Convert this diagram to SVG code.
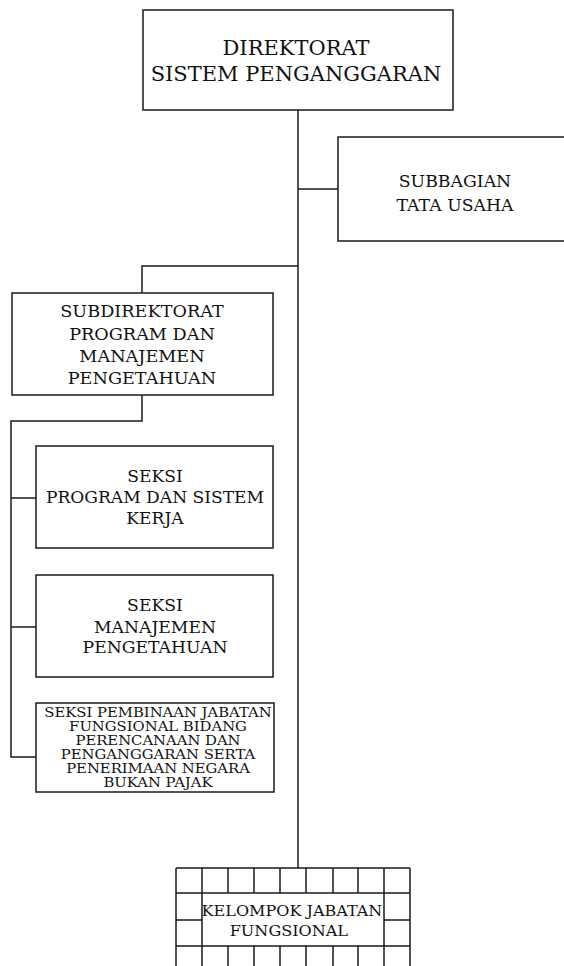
<svg xmlns="http://www.w3.org/2000/svg" width="564" height="966" viewBox="0 0 564 966">
<style>
.box{fill:#fff;stroke:#1a1a1a;stroke-width:1.5}
.ln{fill:none;stroke:#1a1a1a;stroke-width:1.5}
text{font-family:"DejaVu Serif","Liberation Serif",serif;fill:#111;text-anchor:middle}
.t20{font-size:20px}
.t16{font-size:16px}
.t165{font-size:16.5px}
.t13{font-size:12.5px}
.t15{font-size:15px}
</style>
<rect width="564" height="966" fill="#fff"/>
<g id="connectors">
<path class="ln" d="M298 110 V868"/>
<path class="ln" d="M298 189 H338"/>
<path class="ln" d="M298 266 H142 V293"/>
<path class="ln" d="M142 395 V421 H11 V757 H36"/>
<path class="ln" d="M11 498 H36"/>
<path class="ln" d="M11 627 H36"/>
</g>
<g id="direktorat">
<rect class="box" x="143" y="10" width="310" height="100"/>
<g transform="translate(296,0) scale(1.05,1)">
<text class="t20" x="0" y="55">DIREKTORAT</text>
<text class="t20" x="0" y="81">SISTEM PENGANGGARAN</text>
</g>
</g>
<g id="subbagian">
<rect class="box" x="338" y="137" width="240" height="104"/>
<g transform="translate(455,0) scale(1.08,1)">
<text class="t16" x="0" y="187">SUBBAGIAN</text>
<text class="t16" x="0" y="211">TATA USAHA</text>
</g>
</g>
<g id="subdirektorat">
<rect class="box" x="12" y="293" width="261" height="102"/>
<g transform="translate(142,0) scale(1.07,1)">
<text class="t165" x="0" y="317">SUBDIREKTORAT</text>
<text class="t165" x="0" y="340">PROGRAM DAN</text>
<text class="t165" x="0" y="362">MANAJEMEN</text>
<text class="t165" x="0" y="384">PENGETAHUAN</text>
</g>
</g>
<g id="seksi-program">
<rect class="box" x="36" y="446" width="237" height="102"/>
<g transform="translate(155,0) scale(1.07,1)">
<text class="t16" x="0" y="482">SEKSI</text>
<text class="t16" x="0" y="503">PROGRAM DAN SISTEM</text>
<text class="t16" x="0" y="524">KERJA</text>
</g>
</g>
<g id="seksi-manajemen">
<rect class="box" x="36" y="575" width="237" height="102"/>
<g transform="translate(155,0) scale(1.075,1)">
<text class="t16" x="0" y="611">SEKSI</text>
<text class="t16" x="0" y="633">MANAJEMEN</text>
<text class="t16" x="0" y="653">PENGETAHUAN</text>
</g>
</g>
<g id="seksi-pembinaan">
<rect class="box" x="36" y="703" width="238" height="89"/>
<g transform="translate(158,0) scale(1.185,1)">
<text class="t13" x="0" y="717">SEKSI PEMBINAAN JABATAN</text>
<text class="t13" x="0" y="731">FUNGSIONAL BIDANG</text>
<text class="t13" x="0" y="745">PERENCANAAN DAN</text>
<text class="t13" x="0" y="759">PENGANGGARAN SERTA</text>
<text class="t13" x="0" y="773">PENERIMAAN NEGARA</text>
<text class="t13" x="0" y="787">BUKAN PAJAK</text>
</g>
</g>
<g id="kelompok">
<path class="ln" d="M176 868 H410 M176 893 H410 M176 946 H410 M176 920 H202 M384 920 H410"/>
<path class="ln" d="M176 868 V970 M410 868 V970 M202 868 V970 M384 868 V970"/>
<path class="ln" d="M228 868 V893 M254 868 V893 M280 868 V893 M306 868 V893 M333 868 V893 M358 868 V893"/>
<path class="ln" d="M228 946 V970 M254 946 V970 M280 946 V970 M306 946 V970 M333 946 V970 M358 946 V970"/>
<g transform="translate(292,0) scale(1.07,1)">
<text class="t15" x="0" y="916">KELOMPOK JABATAN</text>
<text class="t15" x="-3" y="936">FUNGSIONAL</text>
</g>
</g>
</svg>
